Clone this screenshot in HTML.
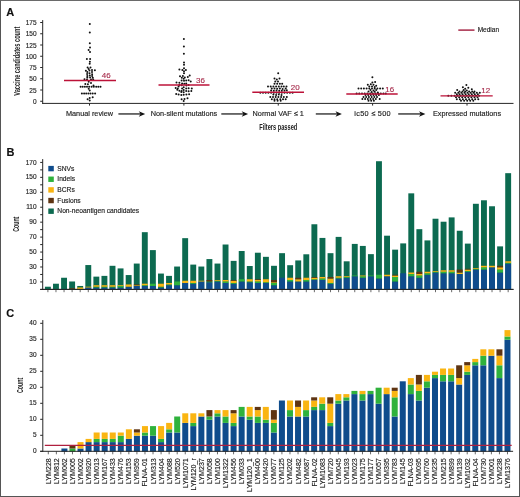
<!DOCTYPE html>
<html><head><meta charset="utf-8"><style>
html,body{margin:0;padding:0;background:#fff;}
#fig{position:relative;width:520px;height:497px;box-sizing:border-box;border:1px solid #555;border-top-color:#6a6a6a;overflow:hidden;background:#fff;}
svg{position:absolute;left:-1px;top:-1px;font-family:"Liberation Sans", sans-serif;filter:blur(0.35px);}
</style></head><body>
<div id="fig"><svg width="520" height="497" viewBox="0 0 520 497">
<text x="6.30" y="15.80" font-size="11" text-anchor="start" font-weight="bold" fill="#111" stroke="#111" stroke-width="0.15" >A</text>
<line x1="42.70" y1="20.10" x2="42.70" y2="103.90" stroke="#262626" stroke-width="1"/>
<line x1="42.20" y1="103.40" x2="513.50" y2="103.40" stroke="#262626" stroke-width="1"/>
<line x1="40.20" y1="101.25" x2="42.70" y2="101.25" stroke="#262626" stroke-width="1"/>
<text x="36.60" y="103.85" font-size="6.5" text-anchor="end" font-weight="normal" fill="#222" stroke="#222" stroke-width="0.15" >0</text>
<line x1="40.20" y1="90.00" x2="42.70" y2="90.00" stroke="#262626" stroke-width="1"/>
<text x="36.60" y="92.60" font-size="6.5" text-anchor="end" font-weight="normal" fill="#222" stroke="#222" stroke-width="0.15" >25</text>
<line x1="40.20" y1="78.75" x2="42.70" y2="78.75" stroke="#262626" stroke-width="1"/>
<text x="36.60" y="81.35" font-size="6.5" text-anchor="end" font-weight="normal" fill="#222" stroke="#222" stroke-width="0.15" >50</text>
<line x1="40.20" y1="67.50" x2="42.70" y2="67.50" stroke="#262626" stroke-width="1"/>
<text x="36.60" y="70.10" font-size="6.5" text-anchor="end" font-weight="normal" fill="#222" stroke="#222" stroke-width="0.15" >75</text>
<line x1="40.20" y1="56.25" x2="42.70" y2="56.25" stroke="#262626" stroke-width="1"/>
<text x="36.60" y="58.85" font-size="6.5" text-anchor="end" font-weight="normal" fill="#222" stroke="#222" stroke-width="0.15" >100</text>
<line x1="40.20" y1="45.00" x2="42.70" y2="45.00" stroke="#262626" stroke-width="1"/>
<text x="36.60" y="47.60" font-size="6.5" text-anchor="end" font-weight="normal" fill="#222" stroke="#222" stroke-width="0.15" >125</text>
<line x1="40.20" y1="33.75" x2="42.70" y2="33.75" stroke="#262626" stroke-width="1"/>
<text x="36.60" y="36.35" font-size="6.5" text-anchor="end" font-weight="normal" fill="#222" stroke="#222" stroke-width="0.15" >150</text>
<line x1="40.20" y1="22.50" x2="42.70" y2="22.50" stroke="#262626" stroke-width="1"/>
<text x="36.60" y="25.10" font-size="6.5" text-anchor="end" font-weight="normal" fill="#222" stroke="#222" stroke-width="0.15" >175</text>
<text transform="translate(19.5,61.2) rotate(-90) scale(0.66,1)" font-size="8.6" font-weight="bold" text-anchor="middle" fill="#222">Vaccine candidates count</text>
<line x1="89.50" y1="103.40" x2="89.50" y2="105.60" stroke="#262626" stroke-width="1"/>
<text x="89.50" y="115.70" font-size="7.3" text-anchor="middle" font-weight="normal" fill="#222" stroke="#222" stroke-width="0.15" >Manual review</text>
<line x1="183.90" y1="103.40" x2="183.90" y2="105.60" stroke="#262626" stroke-width="1"/>
<text x="183.90" y="115.70" font-size="7.3" text-anchor="middle" font-weight="normal" fill="#222" stroke="#222" stroke-width="0.15" >Non-silent mutations</text>
<line x1="278.25" y1="103.40" x2="278.25" y2="105.60" stroke="#262626" stroke-width="1"/>
<text x="278.25" y="115.70" font-size="7.3" text-anchor="middle" font-weight="normal" fill="#222" stroke="#222" stroke-width="0.15" >Normal VAF ≤ 1</text>
<line x1="372.60" y1="103.40" x2="372.60" y2="105.60" stroke="#262626" stroke-width="1"/>
<text x="354.30" y="115.70" font-size="7.3" text-anchor="start" font-weight="normal" fill="#222" stroke="#222" stroke-width="0.15" letter-spacing="0.3">ic50 ≤ 500</text>
<line x1="467.00" y1="103.40" x2="467.00" y2="105.60" stroke="#262626" stroke-width="1"/>
<text x="467.00" y="115.70" font-size="7.3" text-anchor="middle" font-weight="normal" fill="#222" stroke="#222" stroke-width="0.15" >Expressed mutations</text>
<line x1="118.40" y1="113.95" x2="142.20" y2="113.95" stroke="#222" stroke-width="1.3"/>
<path d="M145.20,113.95 L138.80,111.15 L140.60,113.95 L138.80,116.75 Z" fill="#111"/>
<line x1="221.30" y1="113.95" x2="245.10" y2="113.95" stroke="#222" stroke-width="1.3"/>
<path d="M248.10,113.95 L241.70,111.15 L243.50,113.95 L241.70,116.75 Z" fill="#111"/>
<line x1="315.80" y1="113.95" x2="338.90" y2="113.95" stroke="#222" stroke-width="1.3"/>
<path d="M341.90,113.95 L335.50,111.15 L337.30,113.95 L335.50,116.75 Z" fill="#111"/>
<line x1="398.20" y1="113.95" x2="422.40" y2="113.95" stroke="#222" stroke-width="1.3"/>
<path d="M425.40,113.95 L419.00,111.15 L420.80,113.95 L419.00,116.75 Z" fill="#111"/>
<text transform="translate(278.25,129.5) scale(0.69,1)" font-size="8.2" font-weight="bold" text-anchor="middle" fill="#222">Filters passed</text>
<circle cx="89.80" cy="23.90" r="1.0" fill="#111"/>
<circle cx="89.80" cy="32.40" r="1.0" fill="#111"/>
<circle cx="89.80" cy="43.30" r="1.0" fill="#111"/>
<circle cx="90.00" cy="47.60" r="1.0" fill="#111"/>
<circle cx="88.60" cy="49.90" r="1.0" fill="#111"/>
<circle cx="90.00" cy="52.00" r="1.0" fill="#111"/>
<circle cx="86.90" cy="59.00" r="1.0" fill="#111"/>
<circle cx="90.10" cy="59.00" r="1.0" fill="#111"/>
<circle cx="89.90" cy="61.80" r="1.0" fill="#111"/>
<circle cx="89.70" cy="63.70" r="1.0" fill="#111"/>
<circle cx="87.60" cy="67.40" r="1.0" fill="#111"/>
<circle cx="90.50" cy="67.60" r="1.0" fill="#111"/>
<circle cx="88.70" cy="69.00" r="1.0" fill="#111"/>
<circle cx="85.90" cy="70.70" r="1.0" fill="#111"/>
<circle cx="89.50" cy="70.50" r="1.0" fill="#111"/>
<circle cx="92.00" cy="69.90" r="1.0" fill="#111"/>
<circle cx="94.90" cy="70.30" r="1.0" fill="#111"/>
<circle cx="87.30" cy="72.10" r="1.0" fill="#111"/>
<circle cx="92.00" cy="72.10" r="1.0" fill="#111"/>
<circle cx="89.50" cy="73.30" r="1.0" fill="#111"/>
<circle cx="87.10" cy="74.10" r="1.0" fill="#111"/>
<circle cx="92.10" cy="74.30" r="1.0" fill="#111"/>
<circle cx="89.80" cy="75.50" r="1.0" fill="#111"/>
<circle cx="87.30" cy="76.00" r="1.0" fill="#111"/>
<circle cx="92.10" cy="76.00" r="1.0" fill="#111"/>
<circle cx="87.30" cy="77.60" r="1.0" fill="#111"/>
<circle cx="90.10" cy="77.40" r="1.0" fill="#111"/>
<circle cx="92.80" cy="77.80" r="1.0" fill="#111"/>
<circle cx="84.50" cy="79.20" r="1.0" fill="#111"/>
<circle cx="87.00" cy="79.50" r="1.0" fill="#111"/>
<circle cx="91.00" cy="79.50" r="1.0" fill="#111"/>
<circle cx="93.20" cy="79.50" r="1.0" fill="#111"/>
<circle cx="88.70" cy="81.70" r="1.0" fill="#111"/>
<circle cx="91.00" cy="83.10" r="1.0" fill="#111"/>
<circle cx="85.30" cy="84.00" r="1.0" fill="#111"/>
<circle cx="87.90" cy="84.30" r="1.0" fill="#111"/>
<circle cx="93.50" cy="85.40" r="1.0" fill="#111"/>
<circle cx="80.60" cy="86.70" r="1.0" fill="#111"/>
<circle cx="82.70" cy="86.70" r="1.0" fill="#111"/>
<circle cx="84.90" cy="86.70" r="1.0" fill="#111"/>
<circle cx="87.00" cy="86.70" r="1.0" fill="#111"/>
<circle cx="89.20" cy="86.70" r="1.0" fill="#111"/>
<circle cx="91.60" cy="86.70" r="1.0" fill="#111"/>
<circle cx="93.80" cy="86.70" r="1.0" fill="#111"/>
<circle cx="96.20" cy="86.70" r="1.0" fill="#111"/>
<circle cx="98.30" cy="86.70" r="1.0" fill="#111"/>
<circle cx="100.50" cy="86.70" r="1.0" fill="#111"/>
<circle cx="88.70" cy="88.80" r="1.0" fill="#111"/>
<circle cx="89.70" cy="90.50" r="1.0" fill="#111"/>
<circle cx="81.90" cy="93.60" r="1.0" fill="#111"/>
<circle cx="84.10" cy="93.60" r="1.0" fill="#111"/>
<circle cx="86.20" cy="93.60" r="1.0" fill="#111"/>
<circle cx="88.40" cy="93.60" r="1.0" fill="#111"/>
<circle cx="90.50" cy="93.60" r="1.0" fill="#111"/>
<circle cx="92.70" cy="93.60" r="1.0" fill="#111"/>
<circle cx="95.10" cy="93.60" r="1.0" fill="#111"/>
<circle cx="89.70" cy="97.90" r="1.0" fill="#111"/>
<circle cx="92.70" cy="97.20" r="1.0" fill="#111"/>
<circle cx="87.60" cy="99.30" r="1.0" fill="#111"/>
<circle cx="89.70" cy="100.40" r="1.0" fill="#111"/>
<circle cx="183.90" cy="39.00" r="1.0" fill="#111"/>
<circle cx="183.90" cy="46.60" r="1.0" fill="#111"/>
<circle cx="183.90" cy="53.70" r="1.0" fill="#111"/>
<circle cx="184.00" cy="62.40" r="1.0" fill="#111"/>
<circle cx="184.00" cy="64.70" r="1.0" fill="#111"/>
<circle cx="184.00" cy="68.30" r="1.0" fill="#111"/>
<circle cx="179.40" cy="69.40" r="1.0" fill="#111"/>
<circle cx="182.40" cy="70.00" r="1.0" fill="#111"/>
<circle cx="185.90" cy="70.00" r="1.0" fill="#111"/>
<circle cx="184.00" cy="71.30" r="1.0" fill="#111"/>
<circle cx="184.00" cy="73.20" r="1.0" fill="#111"/>
<circle cx="180.00" cy="76.20" r="1.0" fill="#111"/>
<circle cx="182.90" cy="75.90" r="1.0" fill="#111"/>
<circle cx="187.80" cy="77.00" r="1.0" fill="#111"/>
<circle cx="189.70" cy="75.60" r="1.0" fill="#111"/>
<circle cx="181.80" cy="77.80" r="1.0" fill="#111"/>
<circle cx="184.80" cy="77.50" r="1.0" fill="#111"/>
<circle cx="183.70" cy="78.80" r="1.0" fill="#111"/>
<circle cx="181.60" cy="80.40" r="1.0" fill="#111"/>
<circle cx="184.00" cy="80.70" r="1.0" fill="#111"/>
<circle cx="186.20" cy="80.40" r="1.0" fill="#111"/>
<circle cx="188.60" cy="80.30" r="1.0" fill="#111"/>
<circle cx="190.70" cy="81.50" r="1.0" fill="#111"/>
<circle cx="176.50" cy="82.60" r="1.0" fill="#111"/>
<circle cx="179.40" cy="82.80" r="1.0" fill="#111"/>
<circle cx="182.10" cy="83.40" r="1.0" fill="#111"/>
<circle cx="184.30" cy="83.70" r="1.0" fill="#111"/>
<circle cx="186.20" cy="83.40" r="1.0" fill="#111"/>
<circle cx="179.40" cy="85.00" r="1.0" fill="#111"/>
<circle cx="181.60" cy="85.30" r="1.0" fill="#111"/>
<circle cx="186.40" cy="85.50" r="1.0" fill="#111"/>
<circle cx="188.60" cy="85.00" r="1.0" fill="#111"/>
<circle cx="178.60" cy="86.60" r="1.0" fill="#111"/>
<circle cx="183.70" cy="87.20" r="1.0" fill="#111"/>
<circle cx="175.70" cy="88.00" r="1.0" fill="#111"/>
<circle cx="177.80" cy="88.50" r="1.0" fill="#111"/>
<circle cx="182.10" cy="88.50" r="1.0" fill="#111"/>
<circle cx="186.20" cy="88.50" r="1.0" fill="#111"/>
<circle cx="188.60" cy="88.20" r="1.0" fill="#111"/>
<circle cx="191.80" cy="88.50" r="1.0" fill="#111"/>
<circle cx="177.30" cy="89.80" r="1.0" fill="#111"/>
<circle cx="179.40" cy="90.70" r="1.0" fill="#111"/>
<circle cx="181.60" cy="90.90" r="1.0" fill="#111"/>
<circle cx="183.70" cy="90.10" r="1.0" fill="#111"/>
<circle cx="186.20" cy="90.90" r="1.0" fill="#111"/>
<circle cx="188.60" cy="91.20" r="1.0" fill="#111"/>
<circle cx="191.30" cy="90.90" r="1.0" fill="#111"/>
<circle cx="181.30" cy="92.00" r="1.0" fill="#111"/>
<circle cx="183.70" cy="92.30" r="1.0" fill="#111"/>
<circle cx="176.20" cy="93.90" r="1.0" fill="#111"/>
<circle cx="178.60" cy="94.40" r="1.0" fill="#111"/>
<circle cx="181.30" cy="95.00" r="1.0" fill="#111"/>
<circle cx="183.70" cy="94.70" r="1.0" fill="#111"/>
<circle cx="186.40" cy="94.40" r="1.0" fill="#111"/>
<circle cx="189.10" cy="94.20" r="1.0" fill="#111"/>
<circle cx="181.60" cy="99.30" r="1.0" fill="#111"/>
<circle cx="184.50" cy="99.00" r="1.0" fill="#111"/>
<circle cx="187.50" cy="98.20" r="1.0" fill="#111"/>
<circle cx="183.70" cy="100.90" r="1.0" fill="#111"/>
<circle cx="278.20" cy="73.20" r="1.0" fill="#111"/>
<circle cx="274.50" cy="78.50" r="1.0" fill="#111"/>
<circle cx="279.50" cy="78.50" r="1.0" fill="#111"/>
<circle cx="276.80" cy="79.60" r="1.0" fill="#111"/>
<circle cx="275.30" cy="81.50" r="1.0" fill="#111"/>
<circle cx="278.00" cy="81.50" r="1.0" fill="#111"/>
<circle cx="274.50" cy="83.70" r="1.0" fill="#111"/>
<circle cx="277.20" cy="83.80" r="1.0" fill="#111"/>
<circle cx="279.90" cy="83.80" r="1.0" fill="#111"/>
<circle cx="282.20" cy="83.80" r="1.0" fill="#111"/>
<circle cx="268.00" cy="86.40" r="1.0" fill="#111"/>
<circle cx="270.70" cy="86.40" r="1.0" fill="#111"/>
<circle cx="273.40" cy="86.40" r="1.0" fill="#111"/>
<circle cx="276.10" cy="86.40" r="1.0" fill="#111"/>
<circle cx="278.80" cy="86.40" r="1.0" fill="#111"/>
<circle cx="281.50" cy="86.40" r="1.0" fill="#111"/>
<circle cx="283.80" cy="86.40" r="1.0" fill="#111"/>
<circle cx="286.50" cy="86.40" r="1.0" fill="#111"/>
<circle cx="271.80" cy="88.50" r="1.0" fill="#111"/>
<circle cx="274.50" cy="88.50" r="1.0" fill="#111"/>
<circle cx="277.20" cy="88.80" r="1.0" fill="#111"/>
<circle cx="279.90" cy="88.50" r="1.0" fill="#111"/>
<circle cx="282.60" cy="89.10" r="1.0" fill="#111"/>
<circle cx="285.70" cy="88.50" r="1.0" fill="#111"/>
<circle cx="271.10" cy="90.40" r="1.0" fill="#111"/>
<circle cx="273.80" cy="90.80" r="1.0" fill="#111"/>
<circle cx="276.50" cy="90.40" r="1.0" fill="#111"/>
<circle cx="279.20" cy="90.80" r="1.0" fill="#111"/>
<circle cx="281.80" cy="90.80" r="1.0" fill="#111"/>
<circle cx="284.50" cy="90.60" r="1.0" fill="#111"/>
<circle cx="286.80" cy="90.20" r="1.0" fill="#111"/>
<circle cx="260.30" cy="92.70" r="1.0" fill="#111"/>
<circle cx="263.00" cy="92.70" r="1.0" fill="#111"/>
<circle cx="265.70" cy="92.70" r="1.0" fill="#111"/>
<circle cx="268.40" cy="92.70" r="1.0" fill="#111"/>
<circle cx="271.10" cy="92.70" r="1.0" fill="#111"/>
<circle cx="273.80" cy="92.70" r="1.0" fill="#111"/>
<circle cx="276.50" cy="92.70" r="1.0" fill="#111"/>
<circle cx="279.20" cy="92.70" r="1.0" fill="#111"/>
<circle cx="281.80" cy="92.70" r="1.0" fill="#111"/>
<circle cx="284.50" cy="92.70" r="1.0" fill="#111"/>
<circle cx="287.20" cy="92.70" r="1.0" fill="#111"/>
<circle cx="289.90" cy="92.70" r="1.0" fill="#111"/>
<circle cx="292.60" cy="92.70" r="1.0" fill="#111"/>
<circle cx="273.40" cy="94.60" r="1.0" fill="#111"/>
<circle cx="276.10" cy="95.00" r="1.0" fill="#111"/>
<circle cx="278.80" cy="94.60" r="1.0" fill="#111"/>
<circle cx="281.50" cy="95.00" r="1.0" fill="#111"/>
<circle cx="270.30" cy="96.90" r="1.0" fill="#111"/>
<circle cx="273.00" cy="96.90" r="1.0" fill="#111"/>
<circle cx="275.70" cy="96.90" r="1.0" fill="#111"/>
<circle cx="278.40" cy="96.90" r="1.0" fill="#111"/>
<circle cx="281.10" cy="96.90" r="1.0" fill="#111"/>
<circle cx="283.80" cy="96.90" r="1.0" fill="#111"/>
<circle cx="286.80" cy="96.90" r="1.0" fill="#111"/>
<circle cx="271.80" cy="99.20" r="1.0" fill="#111"/>
<circle cx="274.50" cy="99.20" r="1.0" fill="#111"/>
<circle cx="277.20" cy="99.20" r="1.0" fill="#111"/>
<circle cx="280.30" cy="99.20" r="1.0" fill="#111"/>
<circle cx="283.00" cy="99.20" r="1.0" fill="#111"/>
<circle cx="285.70" cy="99.20" r="1.0" fill="#111"/>
<circle cx="274.50" cy="100.80" r="1.0" fill="#111"/>
<circle cx="277.60" cy="100.80" r="1.0" fill="#111"/>
<circle cx="280.70" cy="100.80" r="1.0" fill="#111"/>
<circle cx="372.40" cy="77.20" r="1.0" fill="#111"/>
<circle cx="372.40" cy="82.40" r="1.0" fill="#111"/>
<circle cx="375.10" cy="82.00" r="1.0" fill="#111"/>
<circle cx="367.80" cy="84.70" r="1.0" fill="#111"/>
<circle cx="370.80" cy="84.30" r="1.0" fill="#111"/>
<circle cx="373.50" cy="84.70" r="1.0" fill="#111"/>
<circle cx="376.20" cy="85.80" r="1.0" fill="#111"/>
<circle cx="369.30" cy="86.60" r="1.0" fill="#111"/>
<circle cx="372.00" cy="86.60" r="1.0" fill="#111"/>
<circle cx="374.70" cy="87.00" r="1.0" fill="#111"/>
<circle cx="358.50" cy="88.50" r="1.0" fill="#111"/>
<circle cx="361.20" cy="88.50" r="1.0" fill="#111"/>
<circle cx="363.90" cy="88.50" r="1.0" fill="#111"/>
<circle cx="366.60" cy="88.50" r="1.0" fill="#111"/>
<circle cx="369.30" cy="88.50" r="1.0" fill="#111"/>
<circle cx="372.00" cy="88.50" r="1.0" fill="#111"/>
<circle cx="374.70" cy="88.50" r="1.0" fill="#111"/>
<circle cx="377.40" cy="88.50" r="1.0" fill="#111"/>
<circle cx="380.10" cy="88.50" r="1.0" fill="#111"/>
<circle cx="382.80" cy="88.50" r="1.0" fill="#111"/>
<circle cx="370.50" cy="90.10" r="1.0" fill="#111"/>
<circle cx="373.50" cy="90.50" r="1.0" fill="#111"/>
<circle cx="376.20" cy="90.10" r="1.0" fill="#111"/>
<circle cx="368.50" cy="91.60" r="1.0" fill="#111"/>
<circle cx="371.60" cy="92.00" r="1.0" fill="#111"/>
<circle cx="374.70" cy="91.80" r="1.0" fill="#111"/>
<circle cx="377.80" cy="92.40" r="1.0" fill="#111"/>
<circle cx="356.60" cy="93.50" r="1.0" fill="#111"/>
<circle cx="359.30" cy="93.50" r="1.0" fill="#111"/>
<circle cx="362.00" cy="93.50" r="1.0" fill="#111"/>
<circle cx="364.70" cy="93.50" r="1.0" fill="#111"/>
<circle cx="367.40" cy="93.50" r="1.0" fill="#111"/>
<circle cx="370.10" cy="93.50" r="1.0" fill="#111"/>
<circle cx="372.80" cy="93.50" r="1.0" fill="#111"/>
<circle cx="375.50" cy="93.50" r="1.0" fill="#111"/>
<circle cx="378.20" cy="93.50" r="1.0" fill="#111"/>
<circle cx="380.80" cy="93.50" r="1.0" fill="#111"/>
<circle cx="383.50" cy="93.50" r="1.0" fill="#111"/>
<circle cx="385.80" cy="93.50" r="1.0" fill="#111"/>
<circle cx="365.50" cy="95.10" r="1.0" fill="#111"/>
<circle cx="368.20" cy="95.10" r="1.0" fill="#111"/>
<circle cx="370.80" cy="95.10" r="1.0" fill="#111"/>
<circle cx="373.50" cy="95.10" r="1.0" fill="#111"/>
<circle cx="376.20" cy="95.10" r="1.0" fill="#111"/>
<circle cx="378.90" cy="95.10" r="1.0" fill="#111"/>
<circle cx="363.50" cy="97.00" r="1.0" fill="#111"/>
<circle cx="366.20" cy="97.00" r="1.0" fill="#111"/>
<circle cx="368.90" cy="97.00" r="1.0" fill="#111"/>
<circle cx="371.60" cy="97.00" r="1.0" fill="#111"/>
<circle cx="374.30" cy="97.00" r="1.0" fill="#111"/>
<circle cx="377.00" cy="97.00" r="1.0" fill="#111"/>
<circle cx="362.40" cy="98.90" r="1.0" fill="#111"/>
<circle cx="365.10" cy="98.90" r="1.0" fill="#111"/>
<circle cx="367.80" cy="98.90" r="1.0" fill="#111"/>
<circle cx="370.50" cy="98.90" r="1.0" fill="#111"/>
<circle cx="373.20" cy="98.90" r="1.0" fill="#111"/>
<circle cx="375.80" cy="98.90" r="1.0" fill="#111"/>
<circle cx="379.70" cy="98.90" r="1.0" fill="#111"/>
<circle cx="368.50" cy="100.80" r="1.0" fill="#111"/>
<circle cx="371.20" cy="100.80" r="1.0" fill="#111"/>
<circle cx="373.90" cy="100.80" r="1.0" fill="#111"/>
<circle cx="466.40" cy="85.00" r="1.0" fill="#111"/>
<circle cx="462.90" cy="87.30" r="1.0" fill="#111"/>
<circle cx="468.30" cy="87.70" r="1.0" fill="#111"/>
<circle cx="465.20" cy="88.80" r="1.0" fill="#111"/>
<circle cx="457.20" cy="90.00" r="1.0" fill="#111"/>
<circle cx="463.70" cy="90.00" r="1.0" fill="#111"/>
<circle cx="466.80" cy="90.40" r="1.0" fill="#111"/>
<circle cx="471.80" cy="89.20" r="1.0" fill="#111"/>
<circle cx="459.50" cy="91.50" r="1.0" fill="#111"/>
<circle cx="462.50" cy="91.50" r="1.0" fill="#111"/>
<circle cx="465.20" cy="91.50" r="1.0" fill="#111"/>
<circle cx="469.10" cy="91.50" r="1.0" fill="#111"/>
<circle cx="472.20" cy="91.50" r="1.0" fill="#111"/>
<circle cx="474.50" cy="91.50" r="1.0" fill="#111"/>
<circle cx="455.20" cy="92.70" r="1.0" fill="#111"/>
<circle cx="458.30" cy="92.70" r="1.0" fill="#111"/>
<circle cx="461.40" cy="92.70" r="1.0" fill="#111"/>
<circle cx="464.50" cy="92.70" r="1.0" fill="#111"/>
<circle cx="467.50" cy="92.70" r="1.0" fill="#111"/>
<circle cx="470.60" cy="92.70" r="1.0" fill="#111"/>
<circle cx="473.70" cy="92.70" r="1.0" fill="#111"/>
<circle cx="476.80" cy="92.70" r="1.0" fill="#111"/>
<circle cx="479.80" cy="92.70" r="1.0" fill="#111"/>
<circle cx="456.80" cy="94.20" r="1.0" fill="#111"/>
<circle cx="459.50" cy="94.20" r="1.0" fill="#111"/>
<circle cx="462.50" cy="94.20" r="1.0" fill="#111"/>
<circle cx="465.60" cy="94.20" r="1.0" fill="#111"/>
<circle cx="468.70" cy="94.20" r="1.0" fill="#111"/>
<circle cx="471.80" cy="94.20" r="1.0" fill="#111"/>
<circle cx="474.80" cy="94.20" r="1.0" fill="#111"/>
<circle cx="477.90" cy="94.20" r="1.0" fill="#111"/>
<circle cx="448.30" cy="95.80" r="1.0" fill="#111"/>
<circle cx="451.40" cy="95.80" r="1.0" fill="#111"/>
<circle cx="454.50" cy="95.80" r="1.0" fill="#111"/>
<circle cx="457.50" cy="95.80" r="1.0" fill="#111"/>
<circle cx="460.60" cy="95.80" r="1.0" fill="#111"/>
<circle cx="463.70" cy="95.80" r="1.0" fill="#111"/>
<circle cx="466.80" cy="95.80" r="1.0" fill="#111"/>
<circle cx="469.80" cy="95.80" r="1.0" fill="#111"/>
<circle cx="472.90" cy="95.80" r="1.0" fill="#111"/>
<circle cx="476.00" cy="95.80" r="1.0" fill="#111"/>
<circle cx="479.10" cy="95.80" r="1.0" fill="#111"/>
<circle cx="456.00" cy="97.30" r="1.0" fill="#111"/>
<circle cx="459.10" cy="97.30" r="1.0" fill="#111"/>
<circle cx="462.20" cy="97.30" r="1.0" fill="#111"/>
<circle cx="465.20" cy="97.30" r="1.0" fill="#111"/>
<circle cx="468.30" cy="97.30" r="1.0" fill="#111"/>
<circle cx="471.40" cy="97.30" r="1.0" fill="#111"/>
<circle cx="474.50" cy="97.30" r="1.0" fill="#111"/>
<circle cx="477.50" cy="97.30" r="1.0" fill="#111"/>
<circle cx="456.80" cy="99.20" r="1.0" fill="#111"/>
<circle cx="459.80" cy="99.20" r="1.0" fill="#111"/>
<circle cx="462.90" cy="99.20" r="1.0" fill="#111"/>
<circle cx="466.00" cy="99.20" r="1.0" fill="#111"/>
<circle cx="469.10" cy="99.20" r="1.0" fill="#111"/>
<circle cx="472.20" cy="99.20" r="1.0" fill="#111"/>
<circle cx="475.20" cy="99.20" r="1.0" fill="#111"/>
<circle cx="478.30" cy="99.20" r="1.0" fill="#111"/>
<circle cx="461.00" cy="100.80" r="1.0" fill="#111"/>
<circle cx="464.10" cy="100.80" r="1.0" fill="#111"/>
<circle cx="467.20" cy="100.80" r="1.0" fill="#111"/>
<circle cx="470.20" cy="100.80" r="1.0" fill="#111"/>
<circle cx="473.30" cy="100.80" r="1.0" fill="#111"/>
<line x1="64.00" y1="80.55" x2="116.00" y2="80.55" stroke="#bc1238" stroke-width="1.4"/>
<text x="101.70" y="78.05" font-size="8" text-anchor="start" font-weight="normal" fill="#a8304f" stroke="#a8304f" stroke-width="0.15" >46</text>
<line x1="158.50" y1="85.05" x2="209.50" y2="85.05" stroke="#bc1238" stroke-width="1.4"/>
<text x="196.00" y="82.55" font-size="8" text-anchor="start" font-weight="normal" fill="#a8304f" stroke="#a8304f" stroke-width="0.15" >36</text>
<line x1="252.30" y1="92.25" x2="304.00" y2="92.25" stroke="#bc1238" stroke-width="1.4"/>
<text x="290.70" y="89.75" font-size="8" text-anchor="start" font-weight="normal" fill="#a8304f" stroke="#a8304f" stroke-width="0.15" >20</text>
<line x1="346.30" y1="94.05" x2="397.70" y2="94.05" stroke="#bc1238" stroke-width="1.4"/>
<text x="385.30" y="91.55" font-size="8" text-anchor="start" font-weight="normal" fill="#a8304f" stroke="#a8304f" stroke-width="0.15" >16</text>
<line x1="440.50" y1="95.85" x2="492.70" y2="95.85" stroke="#bc1238" stroke-width="1.4"/>
<text x="481.20" y="93.35" font-size="8" text-anchor="start" font-weight="normal" fill="#a8304f" stroke="#a8304f" stroke-width="0.15" >12</text>
<line x1="458.30" y1="30.10" x2="474.50" y2="30.10" stroke="#a01c3c" stroke-width="1.4"/>
<text x="477.70" y="32.20" font-size="6.5" text-anchor="start" font-weight="normal" fill="#222" stroke="#222" stroke-width="0.15" >Median</text>
<text x="6.60" y="155.70" font-size="11" text-anchor="start" font-weight="bold" fill="#111" stroke="#111" stroke-width="0.15" >B</text>
<line x1="42.70" y1="159.10" x2="42.70" y2="289.90" stroke="#262626" stroke-width="1"/>
<line x1="40.20" y1="289.40" x2="513.50" y2="289.40" stroke="#262626" stroke-width="1"/>
<line x1="40.20" y1="281.93" x2="42.70" y2="281.93" stroke="#262626" stroke-width="1"/>
<text x="36.60" y="284.03" font-size="6.5" text-anchor="end" font-weight="normal" fill="#222" stroke="#222" stroke-width="0.15" >10</text>
<line x1="40.20" y1="274.46" x2="42.70" y2="274.46" stroke="#262626" stroke-width="1"/>
<line x1="40.20" y1="266.99" x2="42.70" y2="266.99" stroke="#262626" stroke-width="1"/>
<text x="36.60" y="269.09" font-size="6.5" text-anchor="end" font-weight="normal" fill="#222" stroke="#222" stroke-width="0.15" >30</text>
<line x1="40.20" y1="259.52" x2="42.70" y2="259.52" stroke="#262626" stroke-width="1"/>
<line x1="40.20" y1="252.05" x2="42.70" y2="252.05" stroke="#262626" stroke-width="1"/>
<text x="36.60" y="254.15" font-size="6.5" text-anchor="end" font-weight="normal" fill="#222" stroke="#222" stroke-width="0.15" >50</text>
<line x1="40.20" y1="244.58" x2="42.70" y2="244.58" stroke="#262626" stroke-width="1"/>
<line x1="40.20" y1="237.11" x2="42.70" y2="237.11" stroke="#262626" stroke-width="1"/>
<text x="36.60" y="239.21" font-size="6.5" text-anchor="end" font-weight="normal" fill="#222" stroke="#222" stroke-width="0.15" >70</text>
<line x1="40.20" y1="229.64" x2="42.70" y2="229.64" stroke="#262626" stroke-width="1"/>
<line x1="40.20" y1="222.17" x2="42.70" y2="222.17" stroke="#262626" stroke-width="1"/>
<text x="36.60" y="224.27" font-size="6.5" text-anchor="end" font-weight="normal" fill="#222" stroke="#222" stroke-width="0.15" >90</text>
<line x1="40.20" y1="214.70" x2="42.70" y2="214.70" stroke="#262626" stroke-width="1"/>
<line x1="40.20" y1="207.23" x2="42.70" y2="207.23" stroke="#262626" stroke-width="1"/>
<text x="36.60" y="209.33" font-size="6.5" text-anchor="end" font-weight="normal" fill="#222" stroke="#222" stroke-width="0.15" >110</text>
<line x1="40.20" y1="199.76" x2="42.70" y2="199.76" stroke="#262626" stroke-width="1"/>
<line x1="40.20" y1="192.29" x2="42.70" y2="192.29" stroke="#262626" stroke-width="1"/>
<text x="36.60" y="194.39" font-size="6.5" text-anchor="end" font-weight="normal" fill="#222" stroke="#222" stroke-width="0.15" >130</text>
<line x1="40.20" y1="184.82" x2="42.70" y2="184.82" stroke="#262626" stroke-width="1"/>
<line x1="40.20" y1="177.35" x2="42.70" y2="177.35" stroke="#262626" stroke-width="1"/>
<text x="36.60" y="179.45" font-size="6.5" text-anchor="end" font-weight="normal" fill="#222" stroke="#222" stroke-width="0.15" >150</text>
<line x1="40.20" y1="169.88" x2="42.70" y2="169.88" stroke="#262626" stroke-width="1"/>
<line x1="40.20" y1="162.41" x2="42.70" y2="162.41" stroke="#262626" stroke-width="1"/>
<text x="36.60" y="164.51" font-size="6.5" text-anchor="end" font-weight="normal" fill="#222" stroke="#222" stroke-width="0.15" >170</text>
<text transform="translate(19.4,224.2) rotate(-90) scale(0.61,1)" font-size="8.6" font-weight="bold" text-anchor="middle" fill="#222">Count</text>
<rect x="44.95" y="286.71" width="5.90" height="2.69" fill="#0c6a50"/>
<line x1="47.90" y1="289.40" x2="47.90" y2="292.20" stroke="#444" stroke-width="0.8"/>
<rect x="53.02" y="283.72" width="5.90" height="5.68" fill="#0c6a50"/>
<line x1="55.97" y1="289.40" x2="55.97" y2="292.20" stroke="#444" stroke-width="0.8"/>
<rect x="61.10" y="277.75" width="5.90" height="11.65" fill="#0c6a50"/>
<rect x="61.10" y="288.95" width="5.90" height="0.75" fill="#0f4c8c"/>
<line x1="64.05" y1="289.40" x2="64.05" y2="292.20" stroke="#444" stroke-width="0.8"/>
<rect x="69.17" y="281.48" width="5.90" height="7.92" fill="#0c6a50"/>
<rect x="69.17" y="288.95" width="5.90" height="0.75" fill="#2fb23c"/>
<rect x="69.17" y="288.21" width="5.90" height="0.75" fill="#5e3412"/>
<line x1="72.12" y1="289.40" x2="72.12" y2="292.20" stroke="#444" stroke-width="0.8"/>
<rect x="77.25" y="285.96" width="5.90" height="3.44" fill="#0c6a50"/>
<rect x="77.25" y="288.95" width="5.90" height="0.75" fill="#0f4c8c"/>
<rect x="77.25" y="287.46" width="5.90" height="1.49" fill="#fab512"/>
<line x1="80.20" y1="289.40" x2="80.20" y2="292.20" stroke="#444" stroke-width="0.8"/>
<rect x="85.33" y="265.05" width="5.90" height="24.35" fill="#0c6a50"/>
<rect x="85.33" y="287.46" width="5.90" height="2.24" fill="#0f4c8c"/>
<rect x="85.33" y="286.71" width="5.90" height="0.75" fill="#fab512"/>
<line x1="88.28" y1="289.40" x2="88.28" y2="292.20" stroke="#444" stroke-width="0.8"/>
<rect x="93.40" y="276.63" width="5.90" height="12.77" fill="#0c6a50"/>
<rect x="93.40" y="287.46" width="5.90" height="2.24" fill="#0f4c8c"/>
<rect x="93.40" y="286.71" width="5.90" height="0.75" fill="#2fb23c"/>
<rect x="93.40" y="285.22" width="5.90" height="1.49" fill="#fab512"/>
<line x1="96.35" y1="289.40" x2="96.35" y2="292.20" stroke="#444" stroke-width="0.8"/>
<rect x="101.47" y="275.88" width="5.90" height="13.52" fill="#0c6a50"/>
<rect x="101.47" y="287.46" width="5.90" height="2.24" fill="#0f4c8c"/>
<rect x="101.47" y="286.71" width="5.90" height="0.75" fill="#2fb23c"/>
<rect x="101.47" y="285.22" width="5.90" height="1.49" fill="#fab512"/>
<line x1="104.42" y1="289.40" x2="104.42" y2="292.20" stroke="#444" stroke-width="0.8"/>
<rect x="109.55" y="265.80" width="5.90" height="23.60" fill="#0c6a50"/>
<rect x="109.55" y="287.46" width="5.90" height="2.24" fill="#0f4c8c"/>
<rect x="109.55" y="286.71" width="5.90" height="0.75" fill="#2fb23c"/>
<rect x="109.55" y="285.22" width="5.90" height="1.49" fill="#fab512"/>
<line x1="112.50" y1="289.40" x2="112.50" y2="292.20" stroke="#444" stroke-width="0.8"/>
<rect x="117.62" y="268.41" width="5.90" height="20.99" fill="#0c6a50"/>
<rect x="117.62" y="287.46" width="5.90" height="2.24" fill="#0f4c8c"/>
<rect x="117.62" y="285.96" width="5.90" height="1.49" fill="#2fb23c"/>
<rect x="117.62" y="285.22" width="5.90" height="0.75" fill="#fab512"/>
<line x1="120.57" y1="289.40" x2="120.57" y2="292.20" stroke="#444" stroke-width="0.8"/>
<rect x="125.70" y="275.06" width="5.90" height="14.34" fill="#0c6a50"/>
<rect x="125.70" y="286.71" width="5.90" height="2.99" fill="#0f4c8c"/>
<rect x="125.70" y="284.47" width="5.90" height="2.24" fill="#fab512"/>
<line x1="128.65" y1="289.40" x2="128.65" y2="292.20" stroke="#444" stroke-width="0.8"/>
<rect x="133.78" y="263.56" width="5.90" height="25.84" fill="#0c6a50"/>
<rect x="133.78" y="285.96" width="5.90" height="3.73" fill="#0f4c8c"/>
<rect x="133.78" y="285.22" width="5.90" height="0.75" fill="#fab512"/>
<rect x="133.78" y="284.47" width="5.90" height="0.75" fill="#5e3412"/>
<line x1="136.72" y1="289.40" x2="136.72" y2="292.20" stroke="#444" stroke-width="0.8"/>
<rect x="141.85" y="232.18" width="5.90" height="57.22" fill="#0c6a50"/>
<rect x="141.85" y="285.96" width="5.90" height="3.73" fill="#0f4c8c"/>
<rect x="141.85" y="285.22" width="5.90" height="0.75" fill="#2fb23c"/>
<rect x="141.85" y="283.72" width="5.90" height="1.49" fill="#fab512"/>
<line x1="144.80" y1="289.40" x2="144.80" y2="292.20" stroke="#444" stroke-width="0.8"/>
<rect x="149.93" y="250.11" width="5.90" height="39.29" fill="#0c6a50"/>
<rect x="149.93" y="285.96" width="5.90" height="3.73" fill="#0f4c8c"/>
<rect x="149.93" y="283.72" width="5.90" height="2.24" fill="#2fb23c"/>
<line x1="152.88" y1="289.40" x2="152.88" y2="292.20" stroke="#444" stroke-width="0.8"/>
<rect x="158.00" y="273.56" width="5.90" height="15.84" fill="#0c6a50"/>
<rect x="158.00" y="287.46" width="5.90" height="2.24" fill="#0f4c8c"/>
<rect x="158.00" y="286.71" width="5.90" height="0.75" fill="#2fb23c"/>
<rect x="158.00" y="283.72" width="5.90" height="2.99" fill="#fab512"/>
<line x1="160.95" y1="289.40" x2="160.95" y2="292.20" stroke="#444" stroke-width="0.8"/>
<rect x="166.07" y="275.88" width="5.90" height="13.52" fill="#0c6a50"/>
<rect x="166.07" y="285.22" width="5.90" height="4.48" fill="#0f4c8c"/>
<rect x="166.07" y="284.47" width="5.90" height="0.75" fill="#2fb23c"/>
<rect x="166.07" y="282.98" width="5.90" height="1.49" fill="#fab512"/>
<line x1="169.02" y1="289.40" x2="169.02" y2="292.20" stroke="#444" stroke-width="0.8"/>
<rect x="174.15" y="266.54" width="5.90" height="22.86" fill="#0c6a50"/>
<rect x="174.15" y="285.22" width="5.90" height="4.48" fill="#0f4c8c"/>
<rect x="174.15" y="281.48" width="5.90" height="3.73" fill="#2fb23c"/>
<line x1="177.10" y1="289.40" x2="177.10" y2="292.20" stroke="#444" stroke-width="0.8"/>
<rect x="182.22" y="238.16" width="5.90" height="51.24" fill="#0c6a50"/>
<rect x="182.22" y="282.98" width="5.90" height="6.72" fill="#0f4c8c"/>
<rect x="182.22" y="280.74" width="5.90" height="2.24" fill="#fab512"/>
<line x1="185.17" y1="289.40" x2="185.17" y2="292.20" stroke="#444" stroke-width="0.8"/>
<rect x="190.30" y="264.60" width="5.90" height="24.80" fill="#0c6a50"/>
<rect x="190.30" y="283.72" width="5.90" height="5.98" fill="#0f4c8c"/>
<rect x="190.30" y="282.98" width="5.90" height="0.75" fill="#2fb23c"/>
<rect x="190.30" y="280.74" width="5.90" height="2.24" fill="#fab512"/>
<line x1="193.25" y1="289.40" x2="193.25" y2="292.20" stroke="#444" stroke-width="0.8"/>
<rect x="198.38" y="266.54" width="5.90" height="22.86" fill="#0c6a50"/>
<rect x="198.38" y="281.48" width="5.90" height="8.22" fill="#0f4c8c"/>
<rect x="198.38" y="280.74" width="5.90" height="0.75" fill="#fab512"/>
<line x1="201.32" y1="289.40" x2="201.32" y2="292.20" stroke="#444" stroke-width="0.8"/>
<rect x="206.45" y="259.07" width="5.90" height="30.33" fill="#0c6a50"/>
<rect x="206.45" y="282.23" width="5.90" height="7.47" fill="#0f4c8c"/>
<rect x="206.45" y="281.48" width="5.90" height="0.75" fill="#2fb23c"/>
<rect x="206.45" y="279.99" width="5.90" height="1.49" fill="#5e3412"/>
<line x1="209.40" y1="289.40" x2="209.40" y2="292.20" stroke="#444" stroke-width="0.8"/>
<rect x="214.53" y="263.56" width="5.90" height="25.84" fill="#0c6a50"/>
<rect x="214.53" y="281.48" width="5.90" height="8.22" fill="#0f4c8c"/>
<rect x="214.53" y="280.74" width="5.90" height="0.75" fill="#2fb23c"/>
<rect x="214.53" y="279.99" width="5.90" height="0.75" fill="#fab512"/>
<line x1="217.47" y1="289.40" x2="217.47" y2="292.20" stroke="#444" stroke-width="0.8"/>
<rect x="222.60" y="244.51" width="5.90" height="44.89" fill="#0c6a50"/>
<rect x="222.60" y="282.98" width="5.90" height="6.72" fill="#0f4c8c"/>
<rect x="222.60" y="281.48" width="5.90" height="1.49" fill="#2fb23c"/>
<rect x="222.60" y="279.99" width="5.90" height="1.49" fill="#fab512"/>
<line x1="225.55" y1="289.40" x2="225.55" y2="292.20" stroke="#444" stroke-width="0.8"/>
<rect x="230.68" y="260.87" width="5.90" height="28.53" fill="#0c6a50"/>
<rect x="230.68" y="283.72" width="5.90" height="5.98" fill="#0f4c8c"/>
<rect x="230.68" y="282.98" width="5.90" height="0.75" fill="#2fb23c"/>
<rect x="230.68" y="280.74" width="5.90" height="2.24" fill="#fab512"/>
<rect x="230.68" y="279.99" width="5.90" height="0.75" fill="#5e3412"/>
<line x1="233.62" y1="289.40" x2="233.62" y2="292.20" stroke="#444" stroke-width="0.8"/>
<rect x="238.75" y="251.01" width="5.90" height="38.39" fill="#0c6a50"/>
<rect x="238.75" y="281.48" width="5.90" height="8.22" fill="#0f4c8c"/>
<rect x="238.75" y="279.24" width="5.90" height="2.24" fill="#2fb23c"/>
<line x1="241.70" y1="289.40" x2="241.70" y2="292.20" stroke="#444" stroke-width="0.8"/>
<rect x="246.82" y="266.02" width="5.90" height="23.38" fill="#0c6a50"/>
<rect x="246.82" y="282.23" width="5.90" height="7.47" fill="#0f4c8c"/>
<rect x="246.82" y="281.48" width="5.90" height="0.75" fill="#2fb23c"/>
<rect x="246.82" y="279.24" width="5.90" height="2.24" fill="#fab512"/>
<line x1="249.77" y1="289.40" x2="249.77" y2="292.20" stroke="#444" stroke-width="0.8"/>
<rect x="254.90" y="252.72" width="5.90" height="36.68" fill="#0c6a50"/>
<rect x="254.90" y="282.98" width="5.90" height="6.72" fill="#0f4c8c"/>
<rect x="254.90" y="281.48" width="5.90" height="1.49" fill="#2fb23c"/>
<rect x="254.90" y="279.99" width="5.90" height="1.49" fill="#fab512"/>
<rect x="254.90" y="279.24" width="5.90" height="0.75" fill="#5e3412"/>
<line x1="257.85" y1="289.40" x2="257.85" y2="292.20" stroke="#444" stroke-width="0.8"/>
<rect x="262.97" y="256.83" width="5.90" height="32.57" fill="#0c6a50"/>
<rect x="262.97" y="282.98" width="5.90" height="6.72" fill="#0f4c8c"/>
<rect x="262.97" y="282.23" width="5.90" height="0.75" fill="#2fb23c"/>
<rect x="262.97" y="279.24" width="5.90" height="2.99" fill="#fab512"/>
<line x1="265.92" y1="289.40" x2="265.92" y2="292.20" stroke="#444" stroke-width="0.8"/>
<rect x="271.05" y="265.80" width="5.90" height="23.60" fill="#0c6a50"/>
<rect x="271.05" y="285.22" width="5.90" height="4.48" fill="#0f4c8c"/>
<rect x="271.05" y="282.98" width="5.90" height="2.24" fill="#2fb23c"/>
<rect x="271.05" y="282.23" width="5.90" height="0.75" fill="#fab512"/>
<rect x="271.05" y="279.99" width="5.90" height="2.24" fill="#5e3412"/>
<line x1="274.00" y1="289.40" x2="274.00" y2="292.20" stroke="#444" stroke-width="0.8"/>
<rect x="279.12" y="253.17" width="5.90" height="36.23" fill="#0c6a50"/>
<rect x="279.12" y="277.75" width="5.90" height="11.95" fill="#0f4c8c"/>
<line x1="282.07" y1="289.40" x2="282.07" y2="292.20" stroke="#444" stroke-width="0.8"/>
<rect x="287.20" y="265.20" width="5.90" height="24.20" fill="#0c6a50"/>
<rect x="287.20" y="281.48" width="5.90" height="8.22" fill="#0f4c8c"/>
<rect x="287.20" y="279.99" width="5.90" height="1.49" fill="#2fb23c"/>
<rect x="287.20" y="277.75" width="5.90" height="2.24" fill="#fab512"/>
<line x1="290.15" y1="289.40" x2="290.15" y2="292.20" stroke="#444" stroke-width="0.8"/>
<rect x="295.27" y="260.42" width="5.90" height="28.98" fill="#0c6a50"/>
<rect x="295.27" y="281.48" width="5.90" height="8.22" fill="#0f4c8c"/>
<rect x="295.27" y="279.24" width="5.90" height="2.24" fill="#fab512"/>
<rect x="295.27" y="277.75" width="5.90" height="1.49" fill="#5e3412"/>
<line x1="298.22" y1="289.40" x2="298.22" y2="292.20" stroke="#444" stroke-width="0.8"/>
<rect x="303.35" y="254.29" width="5.90" height="35.11" fill="#0c6a50"/>
<rect x="303.35" y="281.48" width="5.90" height="8.22" fill="#0f4c8c"/>
<rect x="303.35" y="279.99" width="5.90" height="1.49" fill="#2fb23c"/>
<rect x="303.35" y="277.75" width="5.90" height="2.24" fill="#fab512"/>
<line x1="306.30" y1="289.40" x2="306.30" y2="292.20" stroke="#444" stroke-width="0.8"/>
<rect x="311.42" y="224.26" width="5.90" height="65.14" fill="#0c6a50"/>
<rect x="311.42" y="279.99" width="5.90" height="9.71" fill="#0f4c8c"/>
<rect x="311.42" y="279.24" width="5.90" height="0.75" fill="#2fb23c"/>
<rect x="311.42" y="277.75" width="5.90" height="1.49" fill="#fab512"/>
<rect x="311.42" y="277.00" width="5.90" height="0.75" fill="#5e3412"/>
<line x1="314.37" y1="289.40" x2="314.37" y2="292.20" stroke="#444" stroke-width="0.8"/>
<rect x="319.50" y="237.93" width="5.90" height="51.47" fill="#0c6a50"/>
<rect x="319.50" y="279.99" width="5.90" height="9.71" fill="#0f4c8c"/>
<rect x="319.50" y="278.49" width="5.90" height="1.49" fill="#2fb23c"/>
<rect x="319.50" y="277.00" width="5.90" height="1.49" fill="#fab512"/>
<line x1="322.45" y1="289.40" x2="322.45" y2="292.20" stroke="#444" stroke-width="0.8"/>
<rect x="327.57" y="253.17" width="5.90" height="36.23" fill="#0c6a50"/>
<rect x="327.57" y="283.72" width="5.90" height="5.98" fill="#0f4c8c"/>
<rect x="327.57" y="282.98" width="5.90" height="0.75" fill="#2fb23c"/>
<rect x="327.57" y="278.49" width="5.90" height="4.48" fill="#fab512"/>
<rect x="327.57" y="277.00" width="5.90" height="1.49" fill="#5e3412"/>
<line x1="330.52" y1="289.40" x2="330.52" y2="292.20" stroke="#444" stroke-width="0.8"/>
<rect x="335.65" y="236.89" width="5.90" height="52.51" fill="#0c6a50"/>
<rect x="335.65" y="278.50" width="5.90" height="11.21" fill="#0f4c8c"/>
<rect x="335.65" y="277.75" width="5.90" height="0.75" fill="#2fb23c"/>
<rect x="335.65" y="276.25" width="5.90" height="1.49" fill="#fab512"/>
<line x1="338.60" y1="289.40" x2="338.60" y2="292.20" stroke="#444" stroke-width="0.8"/>
<rect x="343.72" y="261.31" width="5.90" height="28.09" fill="#0c6a50"/>
<rect x="343.72" y="277.75" width="5.90" height="11.95" fill="#0f4c8c"/>
<rect x="343.72" y="277.00" width="5.90" height="0.75" fill="#2fb23c"/>
<rect x="343.72" y="276.25" width="5.90" height="0.75" fill="#fab512"/>
<line x1="346.67" y1="289.40" x2="346.67" y2="292.20" stroke="#444" stroke-width="0.8"/>
<rect x="351.80" y="243.91" width="5.90" height="45.49" fill="#0c6a50"/>
<rect x="351.80" y="276.25" width="5.90" height="13.45" fill="#0f4c8c"/>
<rect x="351.80" y="275.51" width="5.90" height="0.75" fill="#2fb23c"/>
<line x1="354.75" y1="289.40" x2="354.75" y2="292.20" stroke="#444" stroke-width="0.8"/>
<rect x="359.87" y="245.93" width="5.90" height="43.47" fill="#0c6a50"/>
<rect x="359.87" y="277.75" width="5.90" height="11.95" fill="#0f4c8c"/>
<rect x="359.87" y="276.25" width="5.90" height="1.49" fill="#2fb23c"/>
<rect x="359.87" y="275.51" width="5.90" height="0.75" fill="#fab512"/>
<line x1="362.82" y1="289.40" x2="362.82" y2="292.20" stroke="#444" stroke-width="0.8"/>
<rect x="367.95" y="254.14" width="5.90" height="35.26" fill="#0c6a50"/>
<rect x="367.95" y="276.25" width="5.90" height="13.45" fill="#0f4c8c"/>
<rect x="367.95" y="275.51" width="5.90" height="0.75" fill="#2fb23c"/>
<line x1="370.90" y1="289.40" x2="370.90" y2="292.20" stroke="#444" stroke-width="0.8"/>
<rect x="376.02" y="161.22" width="5.90" height="128.18" fill="#0c6a50"/>
<rect x="376.02" y="278.50" width="5.90" height="11.21" fill="#0f4c8c"/>
<rect x="376.02" y="274.76" width="5.90" height="3.73" fill="#2fb23c"/>
<line x1="378.97" y1="289.40" x2="378.97" y2="292.20" stroke="#444" stroke-width="0.8"/>
<rect x="384.10" y="235.69" width="5.90" height="53.71" fill="#0c6a50"/>
<rect x="384.10" y="276.25" width="5.90" height="13.45" fill="#0f4c8c"/>
<rect x="384.10" y="274.76" width="5.90" height="1.49" fill="#fab512"/>
<line x1="387.05" y1="289.40" x2="387.05" y2="292.20" stroke="#444" stroke-width="0.8"/>
<rect x="392.17" y="249.66" width="5.90" height="39.74" fill="#0c6a50"/>
<rect x="392.17" y="281.48" width="5.90" height="8.22" fill="#0f4c8c"/>
<rect x="392.17" y="277.00" width="5.90" height="4.48" fill="#2fb23c"/>
<rect x="392.17" y="275.51" width="5.90" height="1.49" fill="#fab512"/>
<rect x="392.17" y="274.76" width="5.90" height="0.75" fill="#5e3412"/>
<line x1="395.12" y1="289.40" x2="395.12" y2="292.20" stroke="#444" stroke-width="0.8"/>
<rect x="400.25" y="243.39" width="5.90" height="46.01" fill="#0c6a50"/>
<rect x="400.25" y="273.27" width="5.90" height="16.43" fill="#0f4c8c"/>
<line x1="403.20" y1="289.40" x2="403.20" y2="292.20" stroke="#444" stroke-width="0.8"/>
<rect x="408.32" y="193.34" width="5.90" height="96.06" fill="#0c6a50"/>
<rect x="408.32" y="276.25" width="5.90" height="13.45" fill="#0f4c8c"/>
<rect x="408.32" y="274.01" width="5.90" height="2.24" fill="#2fb23c"/>
<rect x="408.32" y="272.52" width="5.90" height="1.49" fill="#fab512"/>
<line x1="411.27" y1="289.40" x2="411.27" y2="292.20" stroke="#444" stroke-width="0.8"/>
<rect x="416.40" y="229.19" width="5.90" height="60.21" fill="#0c6a50"/>
<rect x="416.40" y="277.75" width="5.90" height="11.95" fill="#0f4c8c"/>
<rect x="416.40" y="275.51" width="5.90" height="2.24" fill="#2fb23c"/>
<rect x="416.40" y="274.01" width="5.90" height="1.49" fill="#fab512"/>
<rect x="416.40" y="271.77" width="5.90" height="2.24" fill="#5e3412"/>
<line x1="419.35" y1="289.40" x2="419.35" y2="292.20" stroke="#444" stroke-width="0.8"/>
<rect x="424.47" y="240.40" width="5.90" height="49.00" fill="#0c6a50"/>
<rect x="424.47" y="274.76" width="5.90" height="14.94" fill="#0f4c8c"/>
<rect x="424.47" y="273.27" width="5.90" height="1.49" fill="#2fb23c"/>
<rect x="424.47" y="271.77" width="5.90" height="1.49" fill="#fab512"/>
<line x1="427.42" y1="289.40" x2="427.42" y2="292.20" stroke="#444" stroke-width="0.8"/>
<rect x="432.55" y="218.73" width="5.90" height="70.67" fill="#0c6a50"/>
<rect x="432.55" y="272.52" width="5.90" height="17.18" fill="#0f4c8c"/>
<rect x="432.55" y="271.77" width="5.90" height="0.75" fill="#2fb23c"/>
<rect x="432.55" y="271.02" width="5.90" height="0.75" fill="#fab512"/>
<line x1="435.50" y1="289.40" x2="435.50" y2="292.20" stroke="#444" stroke-width="0.8"/>
<rect x="440.62" y="221.72" width="5.90" height="67.68" fill="#0c6a50"/>
<rect x="440.62" y="273.27" width="5.90" height="16.43" fill="#0f4c8c"/>
<rect x="440.62" y="271.77" width="5.90" height="1.49" fill="#2fb23c"/>
<rect x="440.62" y="270.28" width="5.90" height="1.49" fill="#fab512"/>
<line x1="443.57" y1="289.40" x2="443.57" y2="292.20" stroke="#444" stroke-width="0.8"/>
<rect x="448.70" y="217.39" width="5.90" height="72.01" fill="#0c6a50"/>
<rect x="448.70" y="273.27" width="5.90" height="16.43" fill="#0f4c8c"/>
<rect x="448.70" y="271.77" width="5.90" height="1.49" fill="#2fb23c"/>
<rect x="448.70" y="270.28" width="5.90" height="1.49" fill="#fab512"/>
<line x1="451.65" y1="289.40" x2="451.65" y2="292.20" stroke="#444" stroke-width="0.8"/>
<rect x="456.77" y="230.76" width="5.90" height="58.64" fill="#0c6a50"/>
<rect x="456.77" y="274.01" width="5.90" height="15.69" fill="#0f4c8c"/>
<rect x="456.77" y="272.52" width="5.90" height="1.49" fill="#fab512"/>
<rect x="456.77" y="269.53" width="5.90" height="2.99" fill="#5e3412"/>
<line x1="459.72" y1="289.40" x2="459.72" y2="292.20" stroke="#444" stroke-width="0.8"/>
<rect x="464.85" y="243.61" width="5.90" height="45.79" fill="#0c6a50"/>
<rect x="464.85" y="271.77" width="5.90" height="17.93" fill="#0f4c8c"/>
<rect x="464.85" y="271.02" width="5.90" height="0.75" fill="#2fb23c"/>
<rect x="464.85" y="269.53" width="5.90" height="1.49" fill="#fab512"/>
<rect x="464.85" y="268.78" width="5.90" height="0.75" fill="#5e3412"/>
<line x1="467.80" y1="289.40" x2="467.80" y2="292.20" stroke="#444" stroke-width="0.8"/>
<rect x="472.92" y="203.79" width="5.90" height="85.61" fill="#0c6a50"/>
<rect x="472.92" y="269.53" width="5.90" height="20.17" fill="#0f4c8c"/>
<rect x="472.92" y="268.78" width="5.90" height="0.75" fill="#2fb23c"/>
<rect x="472.92" y="268.04" width="5.90" height="0.75" fill="#fab512"/>
<line x1="475.87" y1="289.40" x2="475.87" y2="292.20" stroke="#444" stroke-width="0.8"/>
<rect x="481.00" y="200.28" width="5.90" height="89.12" fill="#0c6a50"/>
<rect x="481.00" y="269.53" width="5.90" height="20.17" fill="#0f4c8c"/>
<rect x="481.00" y="267.29" width="5.90" height="2.24" fill="#2fb23c"/>
<rect x="481.00" y="265.80" width="5.90" height="1.49" fill="#fab512"/>
<line x1="483.95" y1="289.40" x2="483.95" y2="292.20" stroke="#444" stroke-width="0.8"/>
<rect x="489.07" y="206.26" width="5.90" height="83.14" fill="#0c6a50"/>
<rect x="489.07" y="267.29" width="5.90" height="22.41" fill="#0f4c8c"/>
<rect x="489.07" y="265.80" width="5.90" height="1.49" fill="#fab512"/>
<line x1="492.02" y1="289.40" x2="492.02" y2="292.20" stroke="#444" stroke-width="0.8"/>
<rect x="497.15" y="246.37" width="5.90" height="43.03" fill="#0c6a50"/>
<rect x="497.15" y="272.52" width="5.90" height="17.18" fill="#0f4c8c"/>
<rect x="497.15" y="269.53" width="5.90" height="2.99" fill="#2fb23c"/>
<rect x="497.15" y="267.29" width="5.90" height="2.24" fill="#fab512"/>
<rect x="497.15" y="265.80" width="5.90" height="1.49" fill="#5e3412"/>
<line x1="500.10" y1="289.40" x2="500.10" y2="292.20" stroke="#444" stroke-width="0.8"/>
<rect x="505.22" y="173.17" width="5.90" height="116.23" fill="#0c6a50"/>
<rect x="505.22" y="263.56" width="5.90" height="26.14" fill="#0f4c8c"/>
<rect x="505.22" y="262.81" width="5.90" height="0.75" fill="#2fb23c"/>
<rect x="505.22" y="261.31" width="5.90" height="1.49" fill="#fab512"/>
<line x1="508.17" y1="289.40" x2="508.17" y2="292.20" stroke="#444" stroke-width="0.8"/>
<line x1="40.20" y1="289.40" x2="513.50" y2="289.40" stroke="#262626" stroke-width="1"/>
<rect x="48.30" y="165.90" width="5.50" height="5.40" fill="#0f4c8c"/>
<text x="57.30" y="170.80" font-size="6.7" text-anchor="start" font-weight="normal" fill="#222" stroke="#222" stroke-width="0.15" >SNVs</text>
<rect x="48.30" y="176.55" width="5.50" height="5.40" fill="#2fb23c"/>
<text x="57.30" y="181.45" font-size="6.7" text-anchor="start" font-weight="normal" fill="#222" stroke="#222" stroke-width="0.15" >Indels</text>
<rect x="48.30" y="187.20" width="5.50" height="5.40" fill="#fab512"/>
<text x="57.30" y="192.10" font-size="6.7" text-anchor="start" font-weight="normal" fill="#222" stroke="#222" stroke-width="0.15" >BCRs</text>
<rect x="48.30" y="197.85" width="5.50" height="5.40" fill="#5e3412"/>
<text x="57.30" y="202.75" font-size="6.7" text-anchor="start" font-weight="normal" fill="#222" stroke="#222" stroke-width="0.15" >Fusions</text>
<rect x="48.30" y="208.50" width="5.50" height="5.40" fill="#0c6a50"/>
<text x="57.30" y="213.40" font-size="6.7" text-anchor="start" font-weight="normal" fill="#222" stroke="#222" stroke-width="0.15" >Non-neoantigen candidates</text>
<text x="6.30" y="316.50" font-size="11" text-anchor="start" font-weight="bold" fill="#111" stroke="#111" stroke-width="0.15" >C</text>
<line x1="42.80" y1="320.10" x2="42.80" y2="451.80" stroke="#262626" stroke-width="1"/>
<line x1="40.20" y1="451.30" x2="42.80" y2="451.30" stroke="#262626" stroke-width="1"/>
<text x="36.60" y="453.20" font-size="6.5" text-anchor="end" font-weight="normal" fill="#222" stroke="#222" stroke-width="0.15" >0</text>
<line x1="40.20" y1="435.30" x2="42.80" y2="435.30" stroke="#262626" stroke-width="1"/>
<text x="36.60" y="437.20" font-size="6.5" text-anchor="end" font-weight="normal" fill="#222" stroke="#222" stroke-width="0.15" >5</text>
<line x1="40.20" y1="419.30" x2="42.80" y2="419.30" stroke="#262626" stroke-width="1"/>
<text x="36.60" y="421.20" font-size="6.5" text-anchor="end" font-weight="normal" fill="#222" stroke="#222" stroke-width="0.15" >10</text>
<line x1="40.20" y1="403.30" x2="42.80" y2="403.30" stroke="#262626" stroke-width="1"/>
<text x="36.60" y="405.20" font-size="6.5" text-anchor="end" font-weight="normal" fill="#222" stroke="#222" stroke-width="0.15" >15</text>
<line x1="40.20" y1="387.30" x2="42.80" y2="387.30" stroke="#262626" stroke-width="1"/>
<text x="36.60" y="389.20" font-size="6.5" text-anchor="end" font-weight="normal" fill="#222" stroke="#222" stroke-width="0.15" >20</text>
<line x1="40.20" y1="371.30" x2="42.80" y2="371.30" stroke="#262626" stroke-width="1"/>
<text x="36.60" y="373.20" font-size="6.5" text-anchor="end" font-weight="normal" fill="#222" stroke="#222" stroke-width="0.15" >25</text>
<line x1="40.20" y1="355.30" x2="42.80" y2="355.30" stroke="#262626" stroke-width="1"/>
<text x="36.60" y="357.20" font-size="6.5" text-anchor="end" font-weight="normal" fill="#222" stroke="#222" stroke-width="0.15" >30</text>
<line x1="40.20" y1="339.30" x2="42.80" y2="339.30" stroke="#262626" stroke-width="1"/>
<text x="36.60" y="341.20" font-size="6.5" text-anchor="end" font-weight="normal" fill="#222" stroke="#222" stroke-width="0.15" >35</text>
<line x1="40.20" y1="323.30" x2="42.80" y2="323.30" stroke="#262626" stroke-width="1"/>
<text x="36.60" y="325.20" font-size="6.5" text-anchor="end" font-weight="normal" fill="#222" stroke="#222" stroke-width="0.15" >40</text>
<text transform="translate(23.4,385.4) rotate(-90) scale(0.61,1)" font-size="8.6" font-weight="bold" text-anchor="middle" fill="#222">Count</text>
<line x1="48.30" y1="451.30" x2="48.30" y2="454.30" stroke="#444" stroke-width="0.8"/>
<text transform="translate(50.80,458.2) rotate(-90)" font-size="7.1" text-anchor="end" fill="#222" stroke="#222" stroke-width="0.15">LYM228</text>
<line x1="56.36" y1="451.30" x2="56.36" y2="454.30" stroke="#444" stroke-width="0.8"/>
<text transform="translate(58.86,458.2) rotate(-90)" font-size="7.1" text-anchor="end" fill="#222" stroke="#222" stroke-width="0.15">LYM812</text>
<rect x="61.41" y="448.50" width="6.00" height="3.20" fill="#0f4c8c"/>
<line x1="64.41" y1="451.30" x2="64.41" y2="454.30" stroke="#444" stroke-width="0.8"/>
<text transform="translate(66.91,458.2) rotate(-90)" font-size="7.1" text-anchor="end" fill="#222" stroke="#222" stroke-width="0.15">LYM062</text>
<rect x="69.47" y="448.50" width="6.00" height="3.20" fill="#2fb23c"/>
<rect x="69.47" y="445.30" width="6.00" height="3.20" fill="#5e3412"/>
<line x1="72.47" y1="451.30" x2="72.47" y2="454.30" stroke="#444" stroke-width="0.8"/>
<text transform="translate(74.97,458.2) rotate(-90)" font-size="7.1" text-anchor="end" fill="#222" stroke="#222" stroke-width="0.15">LYM005</text>
<rect x="77.52" y="448.50" width="6.00" height="3.20" fill="#0f4c8c"/>
<rect x="77.52" y="442.10" width="6.00" height="6.40" fill="#fab512"/>
<line x1="80.52" y1="451.30" x2="80.52" y2="454.30" stroke="#444" stroke-width="0.8"/>
<text transform="translate(83.02,458.2) rotate(-90)" font-size="7.1" text-anchor="end" fill="#222" stroke="#222" stroke-width="0.15">LYM002</text>
<rect x="85.58" y="442.10" width="6.00" height="9.60" fill="#0f4c8c"/>
<rect x="85.58" y="438.90" width="6.00" height="3.20" fill="#fab512"/>
<line x1="88.58" y1="451.30" x2="88.58" y2="454.30" stroke="#444" stroke-width="0.8"/>
<text transform="translate(91.08,458.2) rotate(-90)" font-size="7.1" text-anchor="end" fill="#222" stroke="#222" stroke-width="0.15">LYM920</text>
<rect x="93.64" y="442.10" width="6.00" height="9.60" fill="#0f4c8c"/>
<rect x="93.64" y="438.90" width="6.00" height="3.20" fill="#2fb23c"/>
<rect x="93.64" y="432.50" width="6.00" height="6.40" fill="#fab512"/>
<line x1="96.64" y1="451.30" x2="96.64" y2="454.30" stroke="#444" stroke-width="0.8"/>
<text transform="translate(99.14,458.2) rotate(-90)" font-size="7.1" text-anchor="end" fill="#222" stroke="#222" stroke-width="0.15">LYM013</text>
<rect x="101.69" y="442.10" width="6.00" height="9.60" fill="#0f4c8c"/>
<rect x="101.69" y="438.90" width="6.00" height="3.20" fill="#2fb23c"/>
<rect x="101.69" y="432.50" width="6.00" height="6.40" fill="#fab512"/>
<line x1="104.69" y1="451.30" x2="104.69" y2="454.30" stroke="#444" stroke-width="0.8"/>
<text transform="translate(107.19,458.2) rotate(-90)" font-size="7.1" text-anchor="end" fill="#222" stroke="#222" stroke-width="0.15">LYM167</text>
<rect x="109.75" y="442.10" width="6.00" height="9.60" fill="#0f4c8c"/>
<rect x="109.75" y="438.90" width="6.00" height="3.20" fill="#2fb23c"/>
<rect x="109.75" y="432.50" width="6.00" height="6.40" fill="#fab512"/>
<line x1="112.75" y1="451.30" x2="112.75" y2="454.30" stroke="#444" stroke-width="0.8"/>
<text transform="translate(115.25,458.2) rotate(-90)" font-size="7.1" text-anchor="end" fill="#222" stroke="#222" stroke-width="0.15">LYM433</text>
<rect x="117.80" y="442.10" width="6.00" height="9.60" fill="#0f4c8c"/>
<rect x="117.80" y="435.70" width="6.00" height="6.40" fill="#2fb23c"/>
<rect x="117.80" y="432.50" width="6.00" height="3.20" fill="#fab512"/>
<line x1="120.80" y1="451.30" x2="120.80" y2="454.30" stroke="#444" stroke-width="0.8"/>
<text transform="translate(123.30,458.2) rotate(-90)" font-size="7.1" text-anchor="end" fill="#222" stroke="#222" stroke-width="0.15">LYM476</text>
<rect x="125.86" y="438.90" width="6.00" height="12.80" fill="#0f4c8c"/>
<rect x="125.86" y="429.30" width="6.00" height="9.60" fill="#fab512"/>
<line x1="128.86" y1="451.30" x2="128.86" y2="454.30" stroke="#444" stroke-width="0.8"/>
<text transform="translate(131.36,458.2) rotate(-90)" font-size="7.1" text-anchor="end" fill="#222" stroke="#222" stroke-width="0.15">LYM153</text>
<rect x="133.92" y="435.70" width="6.00" height="16.00" fill="#0f4c8c"/>
<rect x="133.92" y="432.50" width="6.00" height="3.20" fill="#fab512"/>
<rect x="133.92" y="429.30" width="6.00" height="3.20" fill="#5e3412"/>
<line x1="136.92" y1="451.30" x2="136.92" y2="454.30" stroke="#444" stroke-width="0.8"/>
<text transform="translate(139.42,458.2) rotate(-90)" font-size="7.1" text-anchor="end" fill="#222" stroke="#222" stroke-width="0.15">LYM959</text>
<rect x="141.97" y="435.70" width="6.00" height="16.00" fill="#0f4c8c"/>
<rect x="141.97" y="432.50" width="6.00" height="3.20" fill="#2fb23c"/>
<rect x="141.97" y="426.10" width="6.00" height="6.40" fill="#fab512"/>
<line x1="144.97" y1="451.30" x2="144.97" y2="454.30" stroke="#444" stroke-width="0.8"/>
<text transform="translate(147.47,458.2) rotate(-90)" font-size="7.1" text-anchor="end" fill="#222" stroke="#222" stroke-width="0.15">FLNA-01</text>
<rect x="150.03" y="435.70" width="6.00" height="16.00" fill="#0f4c8c"/>
<rect x="150.03" y="426.10" width="6.00" height="9.60" fill="#2fb23c"/>
<line x1="153.03" y1="451.30" x2="153.03" y2="454.30" stroke="#444" stroke-width="0.8"/>
<text transform="translate(155.53,458.2) rotate(-90)" font-size="7.1" text-anchor="end" fill="#222" stroke="#222" stroke-width="0.15">LYM313</text>
<rect x="158.08" y="442.10" width="6.00" height="9.60" fill="#0f4c8c"/>
<rect x="158.08" y="438.90" width="6.00" height="3.20" fill="#2fb23c"/>
<rect x="158.08" y="426.10" width="6.00" height="12.80" fill="#fab512"/>
<line x1="161.08" y1="451.30" x2="161.08" y2="454.30" stroke="#444" stroke-width="0.8"/>
<text transform="translate(163.58,458.2) rotate(-90)" font-size="7.1" text-anchor="end" fill="#222" stroke="#222" stroke-width="0.15">LYM404</text>
<rect x="166.14" y="432.50" width="6.00" height="19.20" fill="#0f4c8c"/>
<rect x="166.14" y="429.30" width="6.00" height="3.20" fill="#2fb23c"/>
<rect x="166.14" y="422.90" width="6.00" height="6.40" fill="#fab512"/>
<line x1="169.14" y1="451.30" x2="169.14" y2="454.30" stroke="#444" stroke-width="0.8"/>
<text transform="translate(171.64,458.2) rotate(-90)" font-size="7.1" text-anchor="end" fill="#222" stroke="#222" stroke-width="0.15">LYM088</text>
<rect x="174.20" y="432.50" width="6.00" height="19.20" fill="#0f4c8c"/>
<rect x="174.20" y="416.50" width="6.00" height="16.00" fill="#2fb23c"/>
<line x1="177.20" y1="451.30" x2="177.20" y2="454.30" stroke="#444" stroke-width="0.8"/>
<text transform="translate(179.70,458.2) rotate(-90)" font-size="7.1" text-anchor="end" fill="#222" stroke="#222" stroke-width="0.15">LYM520</text>
<rect x="182.25" y="422.90" width="6.00" height="28.80" fill="#0f4c8c"/>
<rect x="182.25" y="413.30" width="6.00" height="9.60" fill="#fab512"/>
<line x1="185.25" y1="451.30" x2="185.25" y2="454.30" stroke="#444" stroke-width="0.8"/>
<text transform="translate(187.75,458.2) rotate(-90)" font-size="7.1" text-anchor="end" fill="#222" stroke="#222" stroke-width="0.15">LYM1071</text>
<rect x="190.31" y="426.10" width="6.00" height="25.60" fill="#0f4c8c"/>
<rect x="190.31" y="422.90" width="6.00" height="3.20" fill="#2fb23c"/>
<rect x="190.31" y="413.30" width="6.00" height="9.60" fill="#fab512"/>
<line x1="193.31" y1="451.30" x2="193.31" y2="454.30" stroke="#444" stroke-width="0.8"/>
<text transform="translate(195.81,458.2) rotate(-90)" font-size="7.1" text-anchor="end" fill="#222" stroke="#222" stroke-width="0.15">LYM120_r</text>
<rect x="198.36" y="416.50" width="6.00" height="35.20" fill="#0f4c8c"/>
<rect x="198.36" y="413.30" width="6.00" height="3.20" fill="#fab512"/>
<line x1="201.36" y1="451.30" x2="201.36" y2="454.30" stroke="#444" stroke-width="0.8"/>
<text transform="translate(203.86,458.2) rotate(-90)" font-size="7.1" text-anchor="end" fill="#222" stroke="#222" stroke-width="0.15">LYM237</text>
<rect x="206.42" y="419.70" width="6.00" height="32.00" fill="#0f4c8c"/>
<rect x="206.42" y="416.50" width="6.00" height="3.20" fill="#2fb23c"/>
<rect x="206.42" y="410.10" width="6.00" height="6.40" fill="#5e3412"/>
<line x1="209.42" y1="451.30" x2="209.42" y2="454.30" stroke="#444" stroke-width="0.8"/>
<text transform="translate(211.92,458.2) rotate(-90)" font-size="7.1" text-anchor="end" fill="#222" stroke="#222" stroke-width="0.15">LYM058</text>
<rect x="214.48" y="416.50" width="6.00" height="35.20" fill="#0f4c8c"/>
<rect x="214.48" y="413.30" width="6.00" height="3.20" fill="#2fb23c"/>
<rect x="214.48" y="410.10" width="6.00" height="3.20" fill="#fab512"/>
<line x1="217.48" y1="451.30" x2="217.48" y2="454.30" stroke="#444" stroke-width="0.8"/>
<text transform="translate(219.98,458.2) rotate(-90)" font-size="7.1" text-anchor="end" fill="#222" stroke="#222" stroke-width="0.15">LYM100</text>
<rect x="222.53" y="422.90" width="6.00" height="28.80" fill="#0f4c8c"/>
<rect x="222.53" y="416.50" width="6.00" height="6.40" fill="#2fb23c"/>
<rect x="222.53" y="410.10" width="6.00" height="6.40" fill="#fab512"/>
<line x1="225.53" y1="451.30" x2="225.53" y2="454.30" stroke="#444" stroke-width="0.8"/>
<text transform="translate(228.03,458.2) rotate(-90)" font-size="7.1" text-anchor="end" fill="#222" stroke="#222" stroke-width="0.15">LYM1322</text>
<rect x="230.59" y="426.10" width="6.00" height="25.60" fill="#0f4c8c"/>
<rect x="230.59" y="422.90" width="6.00" height="3.20" fill="#2fb23c"/>
<rect x="230.59" y="413.30" width="6.00" height="9.60" fill="#fab512"/>
<rect x="230.59" y="410.10" width="6.00" height="3.20" fill="#5e3412"/>
<line x1="233.59" y1="451.30" x2="233.59" y2="454.30" stroke="#444" stroke-width="0.8"/>
<text transform="translate(236.09,458.2) rotate(-90)" font-size="7.1" text-anchor="end" fill="#222" stroke="#222" stroke-width="0.15">LYM456</text>
<rect x="238.64" y="416.50" width="6.00" height="35.20" fill="#0f4c8c"/>
<rect x="238.64" y="406.90" width="6.00" height="9.60" fill="#2fb23c"/>
<line x1="241.64" y1="451.30" x2="241.64" y2="454.30" stroke="#444" stroke-width="0.8"/>
<text transform="translate(244.14,458.2) rotate(-90)" font-size="7.1" text-anchor="end" fill="#222" stroke="#222" stroke-width="0.15">LYM033</text>
<rect x="246.70" y="419.70" width="6.00" height="32.00" fill="#0f4c8c"/>
<rect x="246.70" y="416.50" width="6.00" height="3.20" fill="#2fb23c"/>
<rect x="246.70" y="406.90" width="6.00" height="9.60" fill="#fab512"/>
<line x1="249.70" y1="451.30" x2="249.70" y2="454.30" stroke="#444" stroke-width="0.8"/>
<text transform="translate(252.20,458.2) rotate(-90)" font-size="7.1" text-anchor="end" fill="#222" stroke="#222" stroke-width="0.15">LYM120_1</text>
<rect x="254.76" y="422.90" width="6.00" height="28.80" fill="#0f4c8c"/>
<rect x="254.76" y="416.50" width="6.00" height="6.40" fill="#2fb23c"/>
<rect x="254.76" y="410.10" width="6.00" height="6.40" fill="#fab512"/>
<rect x="254.76" y="406.90" width="6.00" height="3.20" fill="#5e3412"/>
<line x1="257.76" y1="451.30" x2="257.76" y2="454.30" stroke="#444" stroke-width="0.8"/>
<text transform="translate(260.26,458.2) rotate(-90)" font-size="7.1" text-anchor="end" fill="#222" stroke="#222" stroke-width="0.15">LYM400</text>
<rect x="262.81" y="422.90" width="6.00" height="28.80" fill="#0f4c8c"/>
<rect x="262.81" y="419.70" width="6.00" height="3.20" fill="#2fb23c"/>
<rect x="262.81" y="406.90" width="6.00" height="12.80" fill="#fab512"/>
<line x1="265.81" y1="451.30" x2="265.81" y2="454.30" stroke="#444" stroke-width="0.8"/>
<text transform="translate(268.31,458.2) rotate(-90)" font-size="7.1" text-anchor="end" fill="#222" stroke="#222" stroke-width="0.15">LYM420</text>
<rect x="270.87" y="432.50" width="6.00" height="19.20" fill="#0f4c8c"/>
<rect x="270.87" y="422.90" width="6.00" height="9.60" fill="#2fb23c"/>
<rect x="270.87" y="419.70" width="6.00" height="3.20" fill="#fab512"/>
<rect x="270.87" y="410.10" width="6.00" height="9.60" fill="#5e3412"/>
<line x1="273.87" y1="451.30" x2="273.87" y2="454.30" stroke="#444" stroke-width="0.8"/>
<text transform="translate(276.37,458.2) rotate(-90)" font-size="7.1" text-anchor="end" fill="#222" stroke="#222" stroke-width="0.15">LYM677</text>
<rect x="278.92" y="400.50" width="6.00" height="51.20" fill="#0f4c8c"/>
<line x1="281.92" y1="451.30" x2="281.92" y2="454.30" stroke="#444" stroke-width="0.8"/>
<text transform="translate(284.42,458.2) rotate(-90)" font-size="7.1" text-anchor="end" fill="#222" stroke="#222" stroke-width="0.15">LYM125</text>
<rect x="286.98" y="416.50" width="6.00" height="35.20" fill="#0f4c8c"/>
<rect x="286.98" y="410.10" width="6.00" height="6.40" fill="#2fb23c"/>
<rect x="286.98" y="400.50" width="6.00" height="9.60" fill="#fab512"/>
<line x1="289.98" y1="451.30" x2="289.98" y2="454.30" stroke="#444" stroke-width="0.8"/>
<text transform="translate(292.48,458.2) rotate(-90)" font-size="7.1" text-anchor="end" fill="#222" stroke="#222" stroke-width="0.15">LYM202</text>
<rect x="295.04" y="416.50" width="6.00" height="35.20" fill="#0f4c8c"/>
<rect x="295.04" y="406.90" width="6.00" height="9.60" fill="#fab512"/>
<rect x="295.04" y="400.50" width="6.00" height="6.40" fill="#5e3412"/>
<line x1="298.04" y1="451.30" x2="298.04" y2="454.30" stroke="#444" stroke-width="0.8"/>
<text transform="translate(300.54,458.2) rotate(-90)" font-size="7.1" text-anchor="end" fill="#222" stroke="#222" stroke-width="0.15">LYM482</text>
<rect x="303.09" y="416.50" width="6.00" height="35.20" fill="#0f4c8c"/>
<rect x="303.09" y="410.10" width="6.00" height="6.40" fill="#2fb23c"/>
<rect x="303.09" y="400.50" width="6.00" height="9.60" fill="#fab512"/>
<line x1="306.09" y1="451.30" x2="306.09" y2="454.30" stroke="#444" stroke-width="0.8"/>
<text transform="translate(308.59,458.2) rotate(-90)" font-size="7.1" text-anchor="end" fill="#222" stroke="#222" stroke-width="0.15">LYM687</text>
<rect x="311.15" y="410.10" width="6.00" height="41.60" fill="#0f4c8c"/>
<rect x="311.15" y="406.90" width="6.00" height="3.20" fill="#2fb23c"/>
<rect x="311.15" y="400.50" width="6.00" height="6.40" fill="#fab512"/>
<rect x="311.15" y="397.30" width="6.00" height="3.20" fill="#5e3412"/>
<line x1="314.15" y1="451.30" x2="314.15" y2="454.30" stroke="#444" stroke-width="0.8"/>
<text transform="translate(316.65,458.2) rotate(-90)" font-size="7.1" text-anchor="end" fill="#222" stroke="#222" stroke-width="0.15">FLNA-02</text>
<rect x="319.20" y="410.10" width="6.00" height="41.60" fill="#0f4c8c"/>
<rect x="319.20" y="403.70" width="6.00" height="6.40" fill="#2fb23c"/>
<rect x="319.20" y="397.30" width="6.00" height="6.40" fill="#fab512"/>
<line x1="322.20" y1="451.30" x2="322.20" y2="454.30" stroke="#444" stroke-width="0.8"/>
<text transform="translate(324.70,458.2) rotate(-90)" font-size="7.1" text-anchor="end" fill="#222" stroke="#222" stroke-width="0.15">LYM1083</text>
<rect x="327.26" y="426.10" width="6.00" height="25.60" fill="#0f4c8c"/>
<rect x="327.26" y="422.90" width="6.00" height="3.20" fill="#2fb23c"/>
<rect x="327.26" y="403.70" width="6.00" height="19.20" fill="#fab512"/>
<rect x="327.26" y="397.30" width="6.00" height="6.40" fill="#5e3412"/>
<line x1="330.26" y1="451.30" x2="330.26" y2="454.30" stroke="#444" stroke-width="0.8"/>
<text transform="translate(332.76,458.2) rotate(-90)" font-size="7.1" text-anchor="end" fill="#222" stroke="#222" stroke-width="0.15">LYM720</text>
<rect x="335.32" y="403.70" width="6.00" height="48.00" fill="#0f4c8c"/>
<rect x="335.32" y="400.50" width="6.00" height="3.20" fill="#2fb23c"/>
<rect x="335.32" y="394.10" width="6.00" height="6.40" fill="#fab512"/>
<line x1="338.32" y1="451.30" x2="338.32" y2="454.30" stroke="#444" stroke-width="0.8"/>
<text transform="translate(340.82,458.2) rotate(-90)" font-size="7.1" text-anchor="end" fill="#222" stroke="#222" stroke-width="0.15">LYM045</text>
<rect x="343.37" y="400.50" width="6.00" height="51.20" fill="#0f4c8c"/>
<rect x="343.37" y="397.30" width="6.00" height="3.20" fill="#2fb23c"/>
<rect x="343.37" y="394.10" width="6.00" height="3.20" fill="#fab512"/>
<line x1="346.37" y1="451.30" x2="346.37" y2="454.30" stroke="#444" stroke-width="0.8"/>
<text transform="translate(348.87,458.2) rotate(-90)" font-size="7.1" text-anchor="end" fill="#222" stroke="#222" stroke-width="0.15">LYM193</text>
<rect x="351.43" y="394.10" width="6.00" height="57.60" fill="#0f4c8c"/>
<rect x="351.43" y="390.90" width="6.00" height="3.20" fill="#2fb23c"/>
<line x1="354.43" y1="451.30" x2="354.43" y2="454.30" stroke="#444" stroke-width="0.8"/>
<text transform="translate(356.93,458.2) rotate(-90)" font-size="7.1" text-anchor="end" fill="#222" stroke="#222" stroke-width="0.15">LYM023</text>
<rect x="359.48" y="400.50" width="6.00" height="51.20" fill="#0f4c8c"/>
<rect x="359.48" y="394.10" width="6.00" height="6.40" fill="#2fb23c"/>
<rect x="359.48" y="390.90" width="6.00" height="3.20" fill="#fab512"/>
<line x1="362.48" y1="451.30" x2="362.48" y2="454.30" stroke="#444" stroke-width="0.8"/>
<text transform="translate(364.98,458.2) rotate(-90)" font-size="7.1" text-anchor="end" fill="#222" stroke="#222" stroke-width="0.15">LYM175</text>
<rect x="367.54" y="394.10" width="6.00" height="57.60" fill="#0f4c8c"/>
<rect x="367.54" y="390.90" width="6.00" height="3.20" fill="#2fb23c"/>
<line x1="370.54" y1="451.30" x2="370.54" y2="454.30" stroke="#444" stroke-width="0.8"/>
<text transform="translate(373.04,458.2) rotate(-90)" font-size="7.1" text-anchor="end" fill="#222" stroke="#222" stroke-width="0.15">LYM177</text>
<rect x="375.60" y="403.70" width="6.00" height="48.00" fill="#0f4c8c"/>
<rect x="375.60" y="387.70" width="6.00" height="16.00" fill="#2fb23c"/>
<line x1="378.60" y1="451.30" x2="378.60" y2="454.30" stroke="#444" stroke-width="0.8"/>
<text transform="translate(381.10,458.2) rotate(-90)" font-size="7.1" text-anchor="end" fill="#222" stroke="#222" stroke-width="0.15">LYM057</text>
<rect x="383.65" y="394.10" width="6.00" height="57.60" fill="#0f4c8c"/>
<rect x="383.65" y="387.70" width="6.00" height="6.40" fill="#fab512"/>
<line x1="386.65" y1="451.30" x2="386.65" y2="454.30" stroke="#444" stroke-width="0.8"/>
<text transform="translate(389.15,458.2) rotate(-90)" font-size="7.1" text-anchor="end" fill="#222" stroke="#222" stroke-width="0.15">LYM395</text>
<rect x="391.71" y="416.50" width="6.00" height="35.20" fill="#0f4c8c"/>
<rect x="391.71" y="397.30" width="6.00" height="19.20" fill="#2fb23c"/>
<rect x="391.71" y="390.90" width="6.00" height="6.40" fill="#fab512"/>
<rect x="391.71" y="387.70" width="6.00" height="3.20" fill="#5e3412"/>
<line x1="394.71" y1="451.30" x2="394.71" y2="454.30" stroke="#444" stroke-width="0.8"/>
<text transform="translate(397.21,458.2) rotate(-90)" font-size="7.1" text-anchor="end" fill="#222" stroke="#222" stroke-width="0.15">LYM783</text>
<rect x="399.76" y="381.30" width="6.00" height="70.40" fill="#0f4c8c"/>
<line x1="402.76" y1="451.30" x2="402.76" y2="454.30" stroke="#444" stroke-width="0.8"/>
<text transform="translate(405.26,458.2) rotate(-90)" font-size="7.1" text-anchor="end" fill="#222" stroke="#222" stroke-width="0.15">LYM145</text>
<rect x="407.82" y="394.10" width="6.00" height="57.60" fill="#0f4c8c"/>
<rect x="407.82" y="384.50" width="6.00" height="9.60" fill="#2fb23c"/>
<rect x="407.82" y="378.10" width="6.00" height="6.40" fill="#fab512"/>
<line x1="410.82" y1="451.30" x2="410.82" y2="454.30" stroke="#444" stroke-width="0.8"/>
<text transform="translate(413.32,458.2) rotate(-90)" font-size="7.1" text-anchor="end" fill="#222" stroke="#222" stroke-width="0.15">FLNA-03</text>
<rect x="415.88" y="400.50" width="6.00" height="51.20" fill="#0f4c8c"/>
<rect x="415.88" y="390.90" width="6.00" height="9.60" fill="#2fb23c"/>
<rect x="415.88" y="384.50" width="6.00" height="6.40" fill="#fab512"/>
<rect x="415.88" y="374.90" width="6.00" height="9.60" fill="#5e3412"/>
<line x1="418.88" y1="451.30" x2="418.88" y2="454.30" stroke="#444" stroke-width="0.8"/>
<text transform="translate(421.38,458.2) rotate(-90)" font-size="7.1" text-anchor="end" fill="#222" stroke="#222" stroke-width="0.15">LYM095</text>
<rect x="423.93" y="387.70" width="6.00" height="64.00" fill="#0f4c8c"/>
<rect x="423.93" y="381.30" width="6.00" height="6.40" fill="#2fb23c"/>
<rect x="423.93" y="374.90" width="6.00" height="6.40" fill="#fab512"/>
<line x1="426.93" y1="451.30" x2="426.93" y2="454.30" stroke="#444" stroke-width="0.8"/>
<text transform="translate(429.43,458.2) rotate(-90)" font-size="7.1" text-anchor="end" fill="#222" stroke="#222" stroke-width="0.15">LYM760</text>
<rect x="431.99" y="378.10" width="6.00" height="73.60" fill="#0f4c8c"/>
<rect x="431.99" y="374.90" width="6.00" height="3.20" fill="#2fb23c"/>
<rect x="431.99" y="371.70" width="6.00" height="3.20" fill="#fab512"/>
<line x1="434.99" y1="451.30" x2="434.99" y2="454.30" stroke="#444" stroke-width="0.8"/>
<text transform="translate(437.49,458.2) rotate(-90)" font-size="7.1" text-anchor="end" fill="#222" stroke="#222" stroke-width="0.15">LYM235</text>
<rect x="440.04" y="381.30" width="6.00" height="70.40" fill="#0f4c8c"/>
<rect x="440.04" y="374.90" width="6.00" height="6.40" fill="#2fb23c"/>
<rect x="440.04" y="368.50" width="6.00" height="6.40" fill="#fab512"/>
<line x1="443.04" y1="451.30" x2="443.04" y2="454.30" stroke="#444" stroke-width="0.8"/>
<text transform="translate(445.54,458.2) rotate(-90)" font-size="7.1" text-anchor="end" fill="#222" stroke="#222" stroke-width="0.15">LYM215</text>
<rect x="448.10" y="381.30" width="6.00" height="70.40" fill="#0f4c8c"/>
<rect x="448.10" y="374.90" width="6.00" height="6.40" fill="#2fb23c"/>
<rect x="448.10" y="368.50" width="6.00" height="6.40" fill="#fab512"/>
<line x1="451.10" y1="451.30" x2="451.10" y2="454.30" stroke="#444" stroke-width="0.8"/>
<text transform="translate(453.60,458.2) rotate(-90)" font-size="7.1" text-anchor="end" fill="#222" stroke="#222" stroke-width="0.15">LYM899</text>
<rect x="456.16" y="384.50" width="6.00" height="67.20" fill="#0f4c8c"/>
<rect x="456.16" y="378.10" width="6.00" height="6.40" fill="#fab512"/>
<rect x="456.16" y="365.30" width="6.00" height="12.80" fill="#5e3412"/>
<line x1="459.16" y1="451.30" x2="459.16" y2="454.30" stroke="#444" stroke-width="0.8"/>
<text transform="translate(461.66,458.2) rotate(-90)" font-size="7.1" text-anchor="end" fill="#222" stroke="#222" stroke-width="0.15">LYM139</text>
<rect x="464.21" y="374.90" width="6.00" height="76.80" fill="#0f4c8c"/>
<rect x="464.21" y="371.70" width="6.00" height="3.20" fill="#2fb23c"/>
<rect x="464.21" y="365.30" width="6.00" height="6.40" fill="#fab512"/>
<rect x="464.21" y="362.10" width="6.00" height="3.20" fill="#5e3412"/>
<line x1="467.21" y1="451.30" x2="467.21" y2="454.30" stroke="#444" stroke-width="0.8"/>
<text transform="translate(469.71,458.2) rotate(-90)" font-size="7.1" text-anchor="end" fill="#222" stroke="#222" stroke-width="0.15">LYM1032</text>
<rect x="472.27" y="365.30" width="6.00" height="86.40" fill="#0f4c8c"/>
<rect x="472.27" y="362.10" width="6.00" height="3.20" fill="#2fb23c"/>
<rect x="472.27" y="358.90" width="6.00" height="3.20" fill="#fab512"/>
<line x1="475.27" y1="451.30" x2="475.27" y2="454.30" stroke="#444" stroke-width="0.8"/>
<text transform="translate(477.77,458.2) rotate(-90)" font-size="7.1" text-anchor="end" fill="#222" stroke="#222" stroke-width="0.15">FLNA-04</text>
<rect x="480.32" y="365.30" width="6.00" height="86.40" fill="#0f4c8c"/>
<rect x="480.32" y="355.70" width="6.00" height="9.60" fill="#2fb23c"/>
<rect x="480.32" y="349.30" width="6.00" height="6.40" fill="#fab512"/>
<line x1="483.32" y1="451.30" x2="483.32" y2="454.30" stroke="#444" stroke-width="0.8"/>
<text transform="translate(485.82,458.2) rotate(-90)" font-size="7.1" text-anchor="end" fill="#222" stroke="#222" stroke-width="0.15">LYM730</text>
<rect x="488.38" y="355.70" width="6.00" height="96.00" fill="#0f4c8c"/>
<rect x="488.38" y="349.30" width="6.00" height="6.40" fill="#fab512"/>
<line x1="491.38" y1="451.30" x2="491.38" y2="454.30" stroke="#444" stroke-width="0.8"/>
<text transform="translate(493.88,458.2) rotate(-90)" font-size="7.1" text-anchor="end" fill="#222" stroke="#222" stroke-width="0.15">LYM001</text>
<rect x="496.44" y="378.10" width="6.00" height="73.60" fill="#0f4c8c"/>
<rect x="496.44" y="365.30" width="6.00" height="12.80" fill="#2fb23c"/>
<rect x="496.44" y="355.70" width="6.00" height="9.60" fill="#fab512"/>
<rect x="496.44" y="349.30" width="6.00" height="6.40" fill="#5e3412"/>
<line x1="499.44" y1="451.30" x2="499.44" y2="454.30" stroke="#444" stroke-width="0.8"/>
<text transform="translate(501.94,458.2) rotate(-90)" font-size="7.1" text-anchor="end" fill="#222" stroke="#222" stroke-width="0.15">LYM238</text>
<rect x="504.49" y="339.70" width="6.00" height="112.00" fill="#0f4c8c"/>
<rect x="504.49" y="336.50" width="6.00" height="3.20" fill="#2fb23c"/>
<rect x="504.49" y="330.10" width="6.00" height="6.40" fill="#fab512"/>
<line x1="507.49" y1="451.30" x2="507.49" y2="454.30" stroke="#444" stroke-width="0.8"/>
<text transform="translate(509.99,458.2) rotate(-90)" font-size="7.1" text-anchor="end" fill="#222" stroke="#222" stroke-width="0.15">LYM1376</text>
<line x1="44.80" y1="445.40" x2="511.70" y2="445.40" stroke="#b0203f" stroke-width="1.1"/>
<line x1="40.20" y1="451.30" x2="513.10" y2="451.30" stroke="#262626" stroke-width="1"/>
</svg></div>
</body></html>
